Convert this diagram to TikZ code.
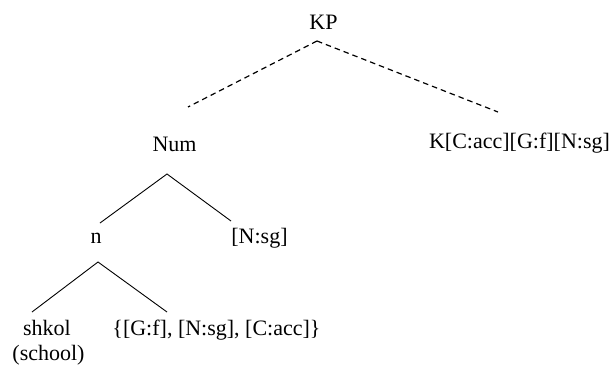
\documentclass[tikz,border=0pt]{standalone}
\usepackage{fontspec}
\setmainfont{Liberation Serif}
\begin{document}
\begin{tikzpicture}[x=1pt,y=-1pt,
  lbl/.style={inner sep=0pt,anchor=base,font=\fontsize{22}{26}\selectfont},
  br/.style={line width=0.9pt},
  dbr/.style={line width=1.2pt,dash pattern=on 5.5pt off 4pt}]
\useasboundingbox (0,0) rectangle (613,367);
\node[lbl] (kp) at (323.5,29.5) {KP};
\node[lbl] (num) at (174.5,151) {Num};
\node[lbl] (k) at (519.5,148) {K[C:acc][G:f][N:sg]};
\node[lbl] (n) at (96,243) {n};
\node[lbl] (nsg) at (259.5,243) {[N:sg]};
\node[lbl] (shkol) at (47,335) {shkol};
\node[lbl] (school) at (48.5,360) {(school)};
\node[lbl] (feat) at (216.5,335) {\{[G:f], [N:sg], [C:acc]\}};
\coordinate (kpb) at (317,41);
\coordinate (kpl) at (188,107);
\coordinate (kpr) at (498,112);
\coordinate (numb) at (167,174);
\coordinate (numl) at (100,223);
\coordinate (numr) at (231,221);
\coordinate (nb) at (98,262);
\coordinate (nl) at (32,312);
\coordinate (nr) at (167,312);
\draw[dbr] (kpb) -- (kpl);
\draw[dbr] (kpb) -- (kpr);
\draw[br] (numl) -- (numb) -- (numr);
\draw[br] (nl) -- (nb) -- (nr);
\end{tikzpicture}
\end{document}
